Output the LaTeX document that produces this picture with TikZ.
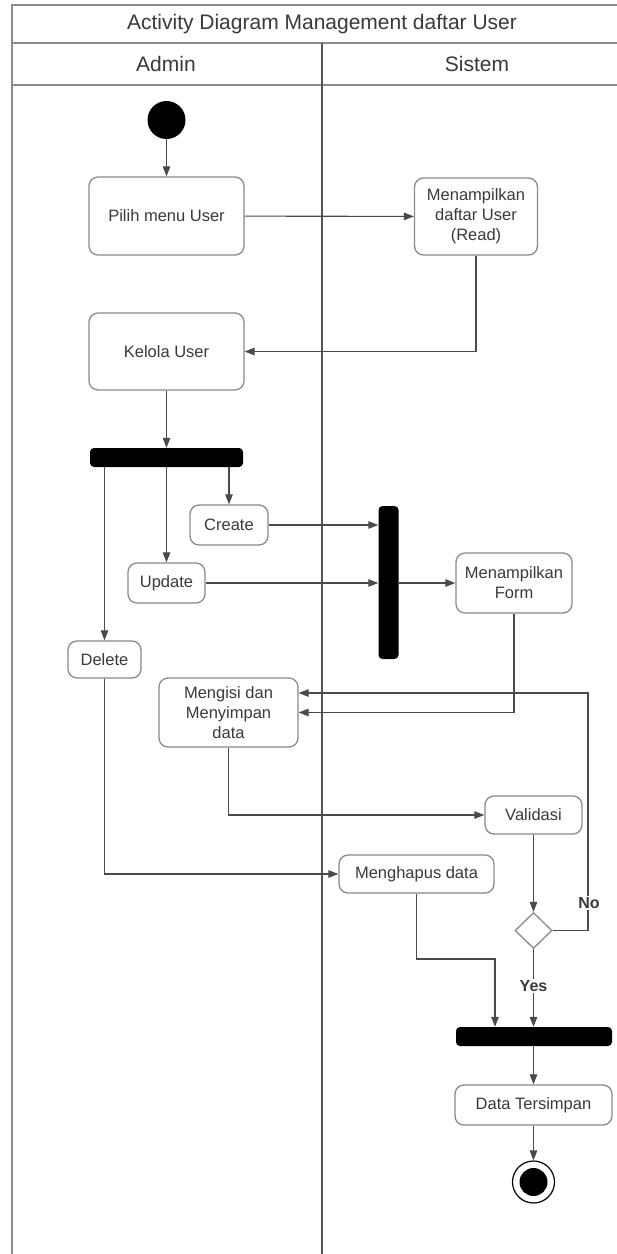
\documentclass[tikz,border=0pt]{standalone}
\usepackage{fontspec}
\setmainfont{Liberation Sans}
\usetikzlibrary{arrows.meta,shapes.geometric}
\definecolor{linec}{HTML}{4A4A4A}
\definecolor{boxc}{HTML}{8A8A8A}
\definecolor{txtc}{HTML}{3A3A3A}
\definecolor{framec}{HTML}{8C8C8C}
\definecolor{divc}{HTML}{555555}
\begin{document}
\begin{tikzpicture}[x=1pt,y=-1pt,
  act/.style={draw=boxc, line width=1.3pt, rounded corners=9pt, fill=white, align=center,
              inner sep=0pt, text=txtc, font=\fontsize{16.5}{20}\selectfont},
  bar/.style={fill=black, rounded corners=4pt, inner sep=0pt},
  conn/.style={draw=linec, line width=1.1pt, -{Triangle[length=10pt,width=7.5pt]}},
  lbl/.style={font=\bfseries\fontsize{16}{18}\selectfont, text=txtc, fill=white, inner sep=1pt},
  head/.style={text=txtc, font=\fontsize{21}{24}\selectfont, inner sep=0pt},
]
\useasboundingbox (0,0) rectangle (617,1254);
\fill[white] (0,0) rectangle (617,1254);

% frame / swimlanes
\draw[framec, line width=1.5pt] (617,5) -- (12,5) -- (12,1254);
\draw[framec, line width=1.5pt] (12,43) -- (617,43);
\draw[framec, line width=1.5pt] (12,85) -- (617,85);
\draw[divc, line width=1.2pt] (322,43) -- (322,1254);
\node[head] (title) at (322,24) {Activity Diagram Management daftar User};
\node[head] (admin) at (166,64) {Admin};
\node[head] (sistem) at (477,64) {Sistem};

% nodes
\node[circle, fill=black, minimum size=38pt, inner sep=0pt] (start) at (166.5,120) {};
\node[act, minimum width=155pt, minimum height=78pt] (pilih) at (166.5,216) {Pilih menu User};
\node[act, minimum width=123pt, minimum height=77pt] (read) at (476,216.5) {Menampilkan\\daftar User\\(Read)};
\node[act, minimum width=155pt, minimum height=77pt] (kelola) at (166.5,351.5) {Kelola User};
\node[bar, minimum width=153pt, minimum height=19pt] (fork1) at (166.5,457.5) {};
\node[act, minimum width=78pt, minimum height=40pt] (create) at (229,525) {Create};
\node[act, minimum width=77pt, minimum height=40pt] (update) at (166.5,583) {Update};
\node[act, minimum width=73pt, minimum height=37pt] (delete) at (104.5,659.5) {Delete};
\node[bar, minimum width=20pt, minimum height=153pt] (join1) at (388.5,582.5) {};
\node[act, minimum width=116pt, minimum height=60pt] (form) at (514,583) {Menampilkan\\Form};
\node[act, minimum width=139pt, minimum height=69pt] (mengisi) at (228.5,712.5) {Mengisi dan\\Menyimpan\\data};
\node[act, minimum width=97pt, minimum height=38pt] (validasi) at (533.5,815) {Validasi};
\node[act, minimum width=155pt, minimum height=38pt] (hapus) at (416.5,874) {Menghapus data};
\node[diamond, draw=boxc, line width=1.3pt, fill=white, minimum width=37pt, minimum height=36pt, inner sep=0pt] (dec) at (533.5,930.5) {};
\node[bar, minimum width=156pt, minimum height=19pt] (fork2) at (534,1036.5) {};
\node[act, minimum width=157pt, minimum height=40pt] (data) at (533.5,1105) {Data Tersimpan};
\node[circle, draw=black, line width=1.2pt, fill=white, minimum size=42pt, inner sep=0pt] (end) at (533.5,1182) {};
\node[circle, fill=black, minimum size=28pt, inner sep=0pt] (endin) at (end) {};

% connectors
\draw[conn] (start) -- (pilih);
\draw[conn] (pilih) -- (read);
\draw[conn] (read.south) |- (kelola.east);
\draw[conn] (kelola) -- (fork1);
\draw[conn] (create.north |- fork1.south) -- (create.north);
\draw[conn] (update.north |- fork1.south) -- (update.north);
\draw[conn] (delete.north |- fork1.south) -- (delete.north);
\draw[conn] (create.east) -- (create.east -| join1.west);
\draw[conn] (update.east) -- (update.east -| join1.west);
\draw[conn] (join1.east |- form.west) -- (form.west);
\draw[conn] (form.south) |- (mengisi.east);
\draw[conn] (mengisi.south) |- (validasi.west);
\draw[conn] (delete.south) |- (hapus.west);
\draw[conn] (validasi.south) -- (dec.north);
\coordinate (nocorner) at (588,930.5);
\draw[conn] (dec.east) -- (nocorner) |- ([yshift=19.5pt]mengisi.east);
\node[lbl] (nolbl) at (589,903) {No};
\draw[conn] (dec.south) -- (dec.south |- fork2.north);
\node[lbl] (yeslbl) at (533.5,986) {Yes};
\coordinate (hbend) at (495,959);
\draw[conn] (hapus.south) |- (hbend) -- (hbend |- fork2.north);
\draw[conn] (fork2.south -| data.north) -- (data.north);
\draw[conn] (data.south) -- (end.north);
\end{tikzpicture}
\end{document}
